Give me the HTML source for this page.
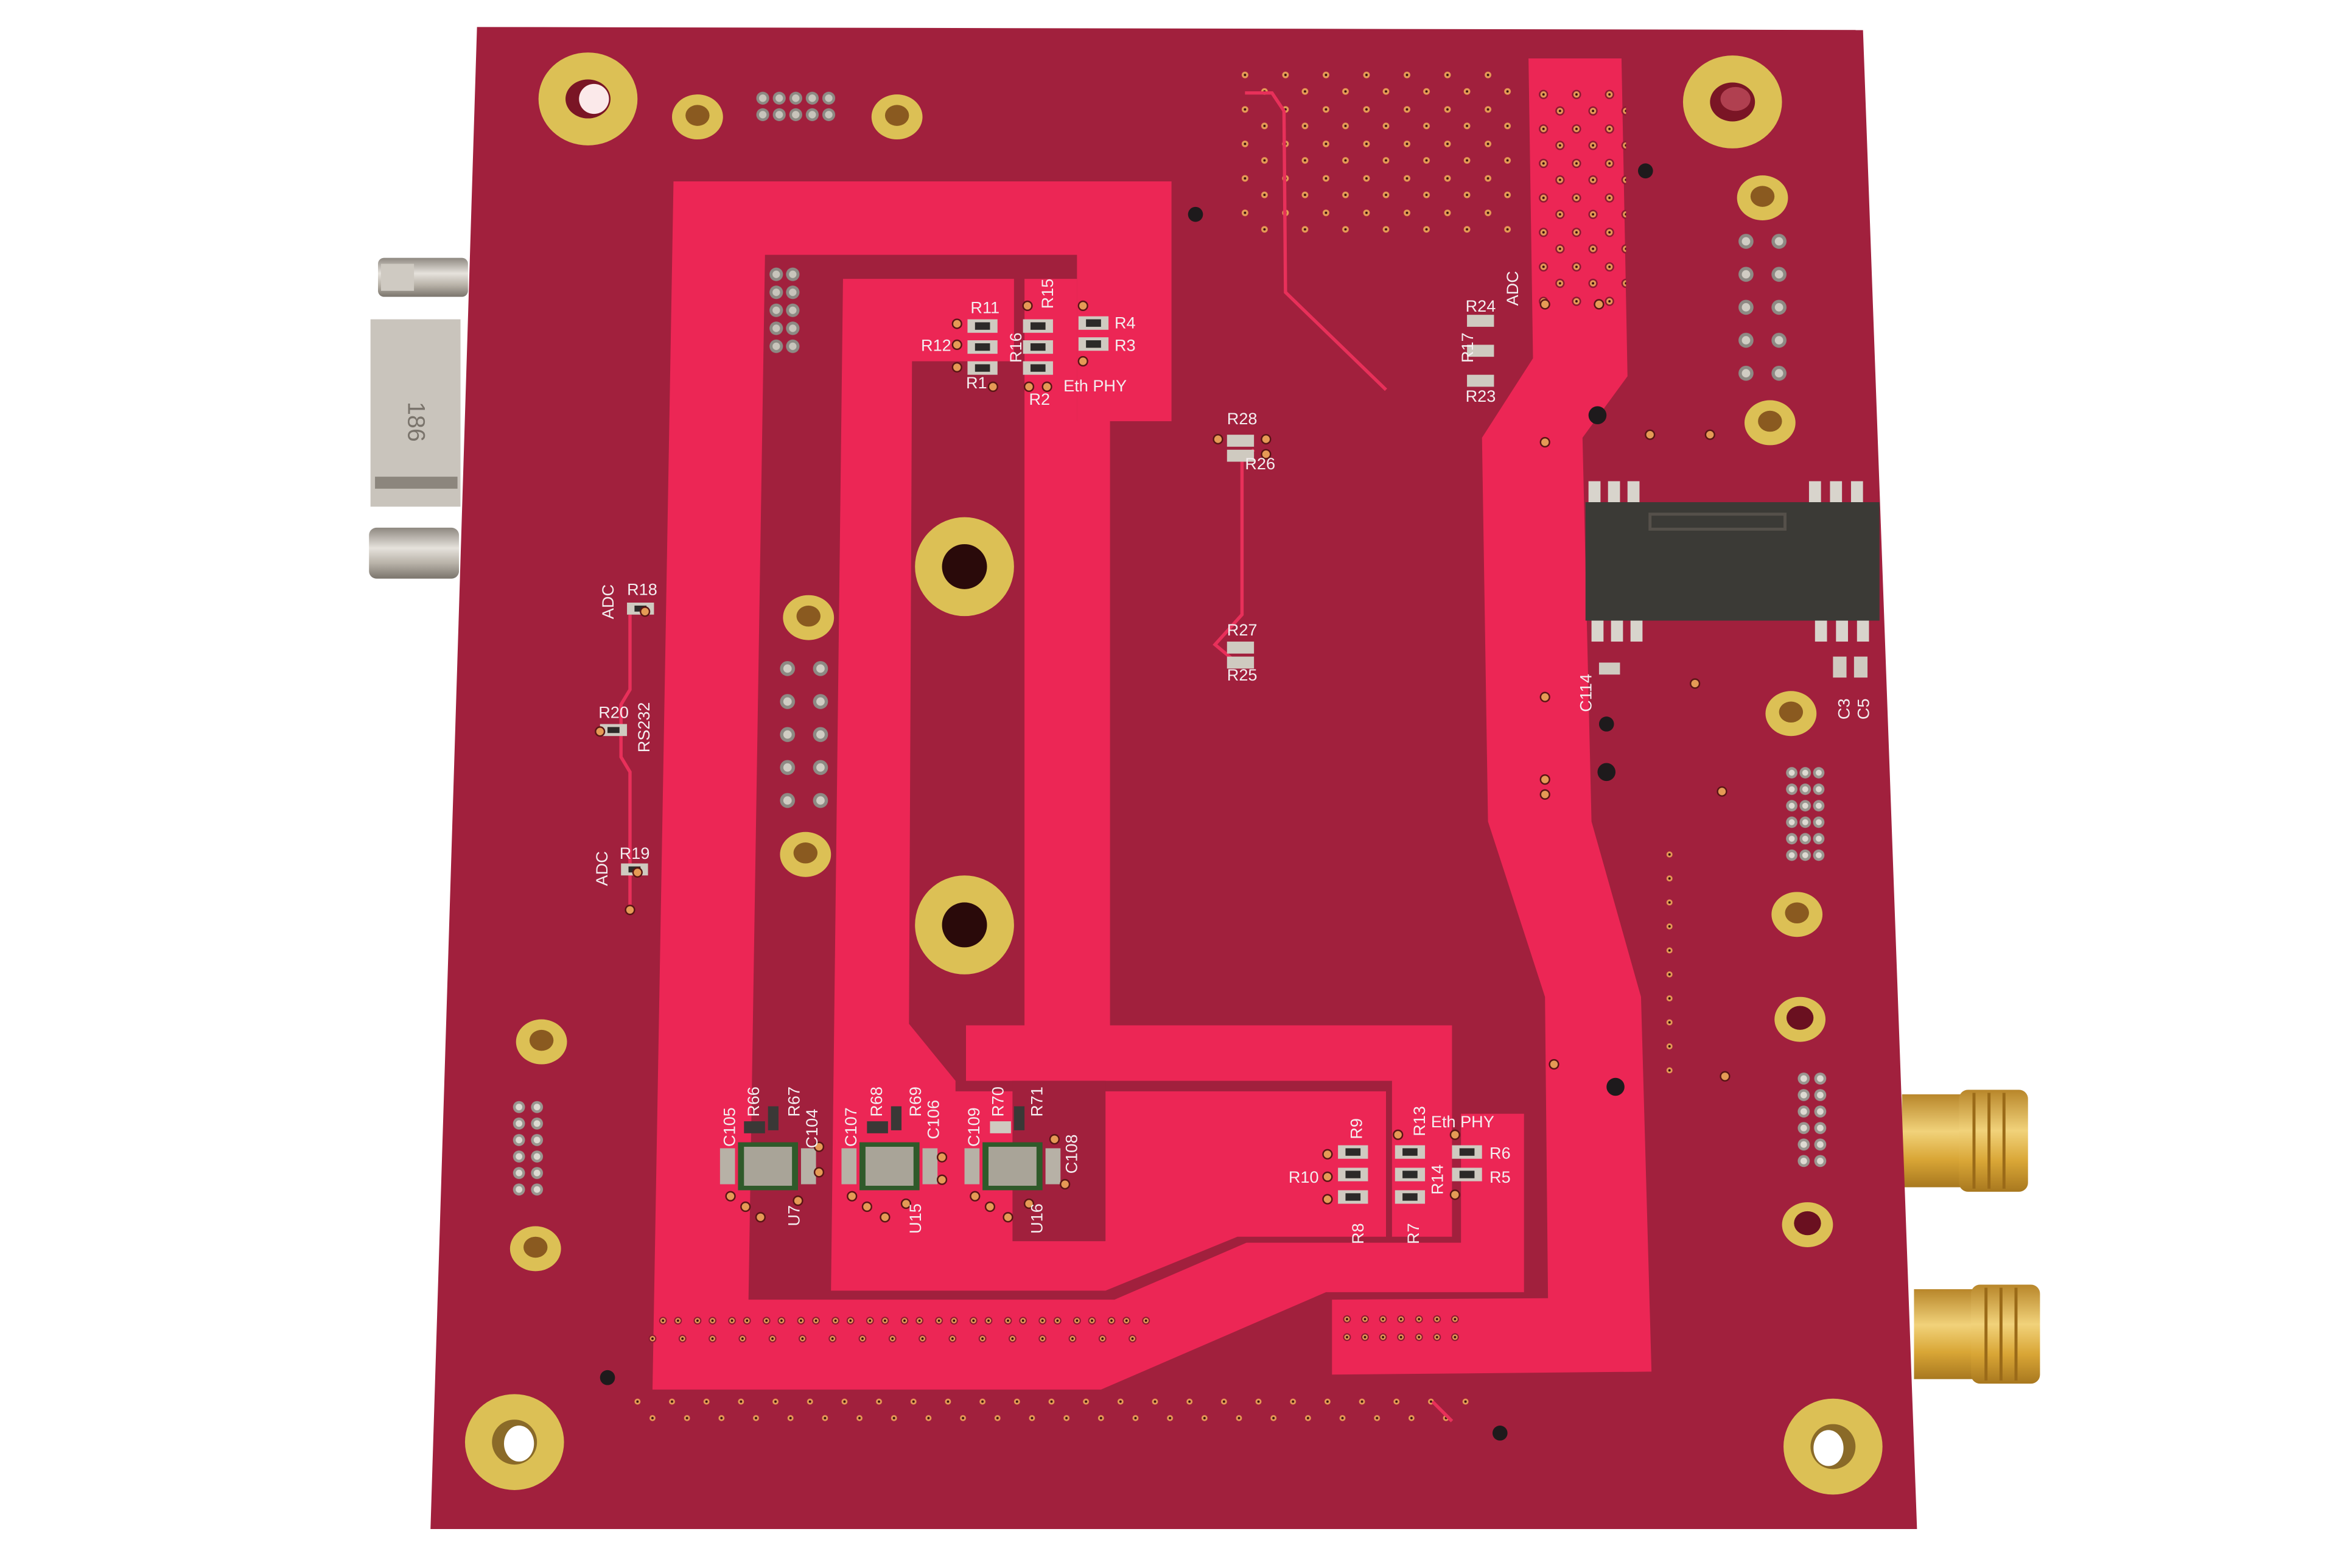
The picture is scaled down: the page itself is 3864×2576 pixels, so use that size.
<!DOCTYPE html>
<html><head><meta charset="utf-8">
<style>
html,body{margin:0;padding:0;background:#fff;}
svg{display:block;}
text{font-family:"Liberation Sans",sans-serif;fill:#f4eef0;font-size:11px;}
</style></head>
<body>
<svg width="3864" height="2576" viewBox="0 0 1568 1046" preserveAspectRatio="none" xmlns="http://www.w3.org/2000/svg">
<defs>
<pattern id="vg" x="826" y="46" width="27" height="23" patternUnits="userSpaceOnUse">
<circle cx="4" cy="4" r="2.2" fill="#e59a55"/><circle cx="4" cy="4" r="0.8" fill="#3a1010"/>
<circle cx="17" cy="15" r="2.2" fill="#e59a55"/><circle cx="17" cy="15" r="0.8" fill="#3a1010"/>
</pattern>
<pattern id="vg2" x="1024" y="58" width="22" height="23" patternUnits="userSpaceOnUse">
<circle cx="5" cy="5" r="2.6" fill="#e59a55" stroke="#8a1a30" stroke-width="1"/><circle cx="5" cy="5" r="0.8" fill="#3a1010"/>
<circle cx="16" cy="16" r="2.6" fill="#e59a55" stroke="#8a1a30" stroke-width="1"/><circle cx="16" cy="16" r="0.8" fill="#3a1010"/>
</pattern>
<pattern id="vb1" x="438" y="876" width="23" height="10" patternUnits="userSpaceOnUse">
<circle cx="4" cy="5" r="2.2" fill="#e59a55" stroke="#8a1a30" stroke-width="0.8"/><circle cx="4" cy="5" r="0.8" fill="#3a1010"/>
<circle cx="14" cy="5" r="2.2" fill="#e59a55" stroke="#8a1a30" stroke-width="0.8"/><circle cx="14" cy="5" r="0.8" fill="#3a1010"/>
</pattern>
<pattern id="vb2" x="430" y="888" width="20" height="10" patternUnits="userSpaceOnUse">
<circle cx="5" cy="5" r="2.2" fill="#e59a55" stroke="#8a1a30" stroke-width="0.8"/><circle cx="5" cy="5" r="0.8" fill="#3a1010"/>
</pattern>
<pattern id="vb3" x="893" y="874" width="12" height="12" patternUnits="userSpaceOnUse">
<circle cx="5" cy="6" r="2.2" fill="#e59a55" stroke="#8a1a30" stroke-width="0.8"/><circle cx="5" cy="6" r="0.8" fill="#3a1010"/>
</pattern>
<pattern id="vb4" x="420" y="930" width="23" height="10" patternUnits="userSpaceOnUse">
<circle cx="5" cy="5" r="2" fill="#e59a55"/><circle cx="5" cy="5" r="0.8" fill="#3a1010"/>
</pattern>
<pattern id="vb5" x="430" y="941" width="23" height="10" patternUnits="userSpaceOnUse">
<circle cx="5" cy="5" r="2" fill="#e59a55"/><circle cx="5" cy="5" r="0.8" fill="#3a1010"/>
</pattern>
<pattern id="vv" x="1108" y="565" width="10" height="16" patternUnits="userSpaceOnUse">
<circle cx="5" cy="5" r="2" fill="#e59a55"/><circle cx="5" cy="5" r="0.8" fill="#3a1010"/>
</pattern>
<pattern id="p1" x="503" y="60" width="11" height="11" patternUnits="userSpaceOnUse">
<circle cx="5.5" cy="5.5" r="4.3" fill="#8d8a84"/><circle cx="5.5" cy="5.5" r="2.5" fill="#c8c4bb"/></pattern>
<pattern id="p2" x="512" y="177" width="11" height="12" patternUnits="userSpaceOnUse">
<circle cx="5.5" cy="6" r="4.5" fill="#8d8a84"/><circle cx="5.5" cy="6" r="2.5" fill="#c8c4bb"/></pattern>
<pattern id="p3" x="519" y="440" width="22" height="22" patternUnits="userSpaceOnUse">
<circle cx="6" cy="6" r="5" fill="#8d8a84"/><circle cx="6" cy="6" r="2.8" fill="#d0ccc3"/></pattern>
<pattern id="p4" x="340" y="733" width="12" height="11" patternUnits="userSpaceOnUse">
<circle cx="6" cy="5.5" r="4" fill="#9a9690"/><circle cx="6" cy="5.5" r="2.2" fill="#dedad2"/></pattern>
<pattern id="p5" x="1158" y="155" width="22" height="22" patternUnits="userSpaceOnUse">
<circle cx="6" cy="6" r="5" fill="#8d8a84"/><circle cx="6" cy="6" r="2.8" fill="#d0ccc3"/></pattern>
<pattern id="p6" x="1190" y="510" width="9" height="11" patternUnits="userSpaceOnUse">
<circle cx="4.5" cy="5.5" r="3.8" fill="#9a9690"/><circle cx="4.5" cy="5.5" r="2" fill="#dedad2"/></pattern>
<pattern id="p7" x="1197" y="714" width="11" height="11" patternUnits="userSpaceOnUse">
<circle cx="5.5" cy="5.5" r="4" fill="#9a9690"/><circle cx="5.5" cy="5.5" r="2.2" fill="#dedad2"/></pattern>
<linearGradient id="gold" x1="0" y1="0" x2="0" y2="1">
<stop offset="0" stop-color="#b8862a"/><stop offset="0.4" stop-color="#f1d27a"/><stop offset="0.7" stop-color="#d9a636"/><stop offset="1" stop-color="#a8781f"/>
</linearGradient>
<linearGradient id="silver" x1="0" y1="0" x2="0" y2="1">
<stop offset="0" stop-color="#8e8880"/><stop offset="0.4" stop-color="#e6e2dc"/><stop offset="0.7" stop-color="#b8b2a8"/><stop offset="1" stop-color="#7a746c"/>
</linearGradient>
</defs>

<!-- connectors left -->
<g>
<rect x="252" y="172" width="60" height="26" rx="4" fill="url(#silver)"/>
<rect x="254" y="176" width="22" height="18" fill="#cfcac2"/>
<rect x="247" y="213" width="60" height="125" fill="#c9c4bc"/>
<rect x="250" y="318" width="55" height="8" fill="#8c867d"/>
<text x="0" y="0" transform="translate(272,268) rotate(90)" style="fill:#7a746c;font-size:16px">186</text>
<rect x="246" y="352" width="60" height="34" rx="5" fill="url(#silver)"/>
</g>
<!-- SMA right -->
<g>
<rect x="1268" y="730" width="40" height="62" fill="url(#gold)"/>
<rect x="1306" y="727" width="46" height="68" rx="6" fill="url(#gold)"/>
<g stroke="#9a6a18" stroke-width="2"><line x1="1316" y1="729" x2="1316" y2="793"/><line x1="1326" y1="729" x2="1326" y2="793"/><line x1="1336" y1="729" x2="1336" y2="793"/></g>
<rect x="1276" y="860" width="40" height="60" fill="url(#gold)"/>
<rect x="1314" y="857" width="46" height="66" rx="6" fill="url(#gold)"/>
<g stroke="#9a6a18" stroke-width="2"><line x1="1324" y1="859" x2="1324" y2="921"/><line x1="1334" y1="859" x2="1334" y2="921"/><line x1="1344" y1="859" x2="1344" y2="921"/></g>
</g>

<!-- board -->
<polygon points="318,18 1242,20 1278,1020 287,1020" fill="#a1203d"/>

<!-- bright copper pours -->
<g fill="#ec2655">
<polygon points="449,121 781,121 781,281 718,281 718,170 510,170 499,867 743,867 831,829 974,829 974,743 1016,743 1016,862 884,862 734,927 435,927"/>
<polygon points="562,186 676,186 676,241 608,241 606,683 637,721 637,728 924,728 924,825 825,825 737,861 554,861"/>
<polygon points="683,186 718,186 718,281 740,281 740,684 968,684 968,825 928,825 928,721 644,721 644,684 683,684"/>
<polygon points="1019,39 1081,39 1085,251 1055,292 1061,548 1094,665 1101,915 888,917 888,867 1032,866 1030,665 992,548 988,292 1022,239"/>
</g>
<rect x="675" y="721" width="62" height="107" fill="#a1203d"/>

<!-- via fields -->
<rect x="826" y="46" width="190" height="115" fill="url(#vg)"/>
<rect x="1024" y="58" width="60" height="150" fill="url(#vg2)"/>
<rect x="438" y="876" width="330" height="10" fill="url(#vb1)"/>
<rect x="430" y="888" width="340" height="10" fill="url(#vb2)"/>
<rect x="893" y="874" width="80" height="24" fill="url(#vb3)"/>
<rect x="420" y="930" width="560" height="10" fill="url(#vb4)"/>
<rect x="430" y="941" width="550" height="10" fill="url(#vb5)"/>
<rect x="1108" y="565" width="10" height="160" fill="url(#vv)"/>

<!-- thin traces -->
<g fill="none" stroke="#e8305a" stroke-width="2.2">
<polyline points="830,62 848,62 856,74 857,195 924,260"/>
<polyline points="836,300 828,306 828,410 810,430 822,440"/>
<polyline points="420,410 420,460 414,470 414,505 420,515 420,605"/>
<line x1="955" y1="935" x2="968" y2="948"/>
</g>

<!-- mounting holes -->
<g>
<ellipse cx="392" cy="66" rx="33" ry="31" fill="#dcc055"/><ellipse cx="392" cy="66" rx="15" ry="13" fill="#7a1525"/><ellipse cx="396" cy="66" rx="10" ry="10" fill="#fbe9ea"/>
<ellipse cx="1155" cy="68" rx="33" ry="31" fill="#dcc055"/><ellipse cx="1155" cy="68" rx="15" ry="13" fill="#7a1525"/><ellipse cx="1157" cy="66" rx="10" ry="8" fill="#b04050"/>
<ellipse cx="343" cy="962" rx="33" ry="32" fill="#dcc055"/><ellipse cx="343" cy="962" rx="15" ry="15" fill="#8a6a28"/><ellipse cx="346" cy="963" rx="10" ry="12" fill="#fff"/>
<ellipse cx="1222" cy="965" rx="33" ry="32" fill="#dcc055"/><ellipse cx="1222" cy="965" rx="15" ry="15" fill="#8a6a28"/><ellipse cx="1219" cy="966" rx="10" ry="12" fill="#fff"/>
<circle cx="643" cy="378" r="33" fill="#dcc055"/><circle cx="643" cy="378" r="15" fill="#2a0a0a"/>
<circle cx="643" cy="617" r="33" fill="#dcc055"/><circle cx="643" cy="617" r="15" fill="#2a0a0a"/>
</g>
<g fill="#dcc055">
<ellipse cx="465" cy="78" rx="17" ry="15"/><ellipse cx="598" cy="78" rx="17" ry="15"/>
<ellipse cx="539" cy="412" rx="17" ry="15"/><ellipse cx="537" cy="570" rx="17" ry="15"/>
<ellipse cx="361" cy="695" rx="17" ry="15"/><ellipse cx="357" cy="833" rx="17" ry="15"/>
<ellipse cx="1175" cy="132" rx="17" ry="15"/><ellipse cx="1180" cy="282" rx="17" ry="15"/>
<ellipse cx="1194" cy="476" rx="17" ry="15"/><ellipse cx="1198" cy="610" rx="17" ry="15"/>
<ellipse cx="1200" cy="680" rx="17" ry="15"/><ellipse cx="1205" cy="817" rx="17" ry="15"/>
</g>
<g fill="#8a5a20">
<ellipse cx="465" cy="77" rx="8" ry="7"/><ellipse cx="598" cy="77" rx="8" ry="7"/>
<ellipse cx="539" cy="411" rx="8" ry="7"/><ellipse cx="537" cy="569" rx="8" ry="7"/>
<ellipse cx="361" cy="694" rx="8" ry="7"/><ellipse cx="357" cy="832" rx="8" ry="7"/>
<ellipse cx="1175" cy="131" rx="8" ry="7"/><ellipse cx="1180" cy="281" rx="8" ry="7"/>
<ellipse cx="1194" cy="475" rx="8" ry="7"/><ellipse cx="1198" cy="609" rx="8" ry="7"/>
</g>
<ellipse cx="1200" cy="679" rx="9" ry="8" fill="#6a1020"/><ellipse cx="1205" cy="816" rx="9" ry="8" fill="#6a1020"/>
<!-- black vias -->
<g fill="#1e1a1c">
<circle cx="797" cy="143" r="5"/><circle cx="1097" cy="114" r="5"/><circle cx="1065" cy="277" r="6"/>
<circle cx="1071" cy="483" r="5"/><circle cx="1071" cy="515" r="6"/><circle cx="1077" cy="725" r="6"/>
<circle cx="405" cy="919" r="5"/><circle cx="1000" cy="956" r="5"/>
</g>

<!-- pin headers -->
<rect x="503" y="60" width="55" height="22" fill="url(#p1)"/>
<rect x="512" y="177" width="22" height="60" fill="url(#p2)"/>
<rect x="519" y="440" width="44" height="110" fill="url(#p3)"/>
<rect x="340" y="733" width="24" height="66" fill="url(#p4)"/>
<rect x="1158" y="155" width="44" height="100" fill="url(#p5)"/>
<rect x="1190" y="510" width="27" height="66" fill="url(#p6)"/>
<rect x="1197" y="714" width="22" height="66" fill="url(#p7)"/>

<!-- IC -->
<g>
<g fill="#d8d4cc">
<rect x="1059" y="321" width="8" height="15"/><rect x="1072" y="321" width="8" height="15"/><rect x="1085" y="321" width="8" height="15"/>
<rect x="1206" y="321" width="8" height="15"/><rect x="1220" y="321" width="8" height="15"/><rect x="1234" y="321" width="8" height="15"/>
<rect x="1061" y="413" width="8" height="15"/><rect x="1074" y="413" width="8" height="15"/><rect x="1087" y="413" width="8" height="15"/>
<rect x="1210" y="413" width="8" height="15"/><rect x="1224" y="413" width="8" height="15"/><rect x="1238" y="413" width="8" height="15"/>
</g>
<rect x="1057" y="335" width="196" height="79" fill="#3b3a36"/>
<rect x="1100" y="343" width="90" height="10" fill="none" stroke="#55504a" stroke-width="2"/>
</g>

<!-- SMD resistors -->
<g fill="#cfcac0">
<rect x="645" y="213" width="20" height="9"/><rect x="645" y="227" width="20" height="9"/><rect x="645" y="241" width="20" height="9"/>
<rect x="682" y="213" width="20" height="9"/><rect x="682" y="227" width="20" height="9"/><rect x="682" y="241" width="20" height="9"/>
<rect x="719" y="211" width="20" height="9"/><rect x="719" y="225" width="20" height="9"/>
<rect x="818" y="290" width="18" height="8"/><rect x="818" y="300" width="18" height="8"/>
<rect x="818" y="428" width="18" height="8"/><rect x="818" y="438" width="18" height="8"/>
<rect x="978" y="210" width="18" height="8"/><rect x="978" y="230" width="18" height="8"/><rect x="978" y="250" width="18" height="8"/>
<rect x="418" y="402" width="18" height="8"/><rect x="400" y="483" width="18" height="8"/><rect x="414" y="576" width="18" height="8"/>
<rect x="892" y="764" width="20" height="9"/><rect x="892" y="779" width="20" height="9"/><rect x="892" y="794" width="20" height="9"/>
<rect x="930" y="764" width="20" height="9"/><rect x="930" y="779" width="20" height="9"/><rect x="930" y="794" width="20" height="9"/>
<rect x="968" y="764" width="20" height="9"/><rect x="968" y="779" width="20" height="9"/>
<rect x="1236" y="438" width="9" height="14"/><rect x="1222" y="438" width="9" height="14"/><rect x="1066" y="442" width="14" height="8"/>
</g>
<g fill="#2c2a28">
<rect x="650" y="215" width="10" height="5"/><rect x="650" y="229" width="10" height="5"/><rect x="650" y="243" width="10" height="5"/>
<rect x="687" y="215" width="10" height="5"/><rect x="687" y="229" width="10" height="5"/><rect x="687" y="243" width="10" height="5"/>
<rect x="724" y="213" width="10" height="5"/><rect x="724" y="227" width="10" height="5"/>
<rect x="897" y="766" width="10" height="5"/><rect x="897" y="781" width="10" height="5"/><rect x="897" y="796" width="10" height="5"/>
<rect x="935" y="766" width="10" height="5"/><rect x="935" y="781" width="10" height="5"/><rect x="935" y="796" width="10" height="5"/>
<rect x="973" y="766" width="10" height="5"/><rect x="973" y="781" width="10" height="5"/>
<rect x="423" y="404" width="8" height="4"/><rect x="405" y="485" width="8" height="4"/><rect x="419" y="578" width="8" height="4"/>
</g>

<!-- bottom modules U7 U15 U16 -->
<g>
<rect x="480" y="766" width="10" height="24" fill="#b7b1a6"/><rect x="492" y="762" width="40" height="32" fill="#2f5a2a"/><rect x="496" y="765" width="32" height="26" fill="#a9a498"/><rect x="534" y="766" width="10" height="24" fill="#b7b1a6"/>
<rect x="561" y="766" width="10" height="24" fill="#b7b1a6"/><rect x="573" y="762" width="40" height="32" fill="#2f5a2a"/><rect x="577" y="765" width="32" height="26" fill="#a9a498"/><rect x="615" y="766" width="10" height="24" fill="#b7b1a6"/>
<rect x="643" y="766" width="10" height="24" fill="#b7b1a6"/><rect x="655" y="762" width="40" height="32" fill="#2f5a2a"/><rect x="659" y="765" width="32" height="26" fill="#a9a498"/><rect x="697" y="766" width="10" height="24" fill="#b7b1a6"/>
<rect x="496" y="748" width="14" height="8" fill="#3a3836"/><rect x="512" y="738" width="7" height="16" fill="#3a3836"/>
<rect x="578" y="748" width="14" height="8" fill="#3a3836"/><rect x="594" y="738" width="7" height="16" fill="#3a3836"/>
<rect x="660" y="748" width="14" height="8" fill="#cfcac0"/><rect x="676" y="738" width="7" height="16" fill="#3a3836"/>
</g>

<!-- small pad vias near parts -->
<g fill="#e59a55" stroke="#5a1515" stroke-width="1">
<circle cx="638" cy="216" r="3"/><circle cx="638" cy="230" r="3"/><circle cx="638" cy="245" r="3"/>
<circle cx="662" cy="258" r="3"/><circle cx="686" cy="258" r="3"/><circle cx="698" cy="258" r="3"/>
<circle cx="685" cy="204" r="3"/><circle cx="722" cy="204" r="3"/><circle cx="722" cy="241" r="3"/>
<circle cx="844" cy="293" r="3"/><circle cx="844" cy="303" r="3"/><circle cx="812" cy="293" r="3"/>
<circle cx="430" cy="408" r="3"/><circle cx="400" cy="488" r="3"/><circle cx="425" cy="582" r="3"/><circle cx="420" cy="607" r="3"/>
<circle cx="885" cy="770" r="3"/><circle cx="885" cy="785" r="3"/><circle cx="885" cy="800" r="3"/>
<circle cx="932" cy="757" r="3"/><circle cx="970" cy="757" r="3"/><circle cx="970" cy="797" r="3"/>
<circle cx="487" cy="798" r="3"/><circle cx="497" cy="805" r="3"/><circle cx="507" cy="812" r="3"/><circle cx="532" cy="801" r="3"/>
<circle cx="568" cy="798" r="3"/><circle cx="578" cy="805" r="3"/><circle cx="590" cy="812" r="3"/><circle cx="604" cy="803" r="3"/>
<circle cx="650" cy="798" r="3"/><circle cx="660" cy="805" r="3"/><circle cx="672" cy="812" r="3"/><circle cx="686" cy="803" r="3"/>
<circle cx="546" cy="765" r="3"/><circle cx="546" cy="782" r="3"/><circle cx="628" cy="772" r="3"/><circle cx="628" cy="787" r="3"/>
<circle cx="710" cy="790" r="3"/><circle cx="703" cy="760" r="3"/>
<circle cx="1030" cy="203" r="3"/><circle cx="1066" cy="203" r="3"/><circle cx="1030" cy="295" r="3"/><circle cx="1100" cy="290" r="3"/>
<circle cx="1030" cy="465" r="3"/><circle cx="1030" cy="520" r="3"/><circle cx="1030" cy="530" r="3"/><circle cx="1036" cy="710" r="3"/>
<circle cx="1148" cy="528" r="3"/><circle cx="1150" cy="718" r="3"/><circle cx="1130" cy="456" r="3"/><circle cx="1140" cy="290" r="3"/>
</g>

<!-- labels -->
<text x="647" y="209">R11</text>
<text x="614" y="234">R12</text>
<text x="644" y="259">R1</text>
<text x="686" y="270">R2</text>
<text x="743" y="219">R4</text>
<text x="743" y="234">R3</text>
<text x="709" y="261">Eth PHY</text>
<text transform="translate(702,206) rotate(-90)">R15</text>
<text transform="translate(681,242) rotate(-90)">R16</text>
<text x="818" y="283">R28</text>
<text x="830" y="313">R26</text>
<text x="818" y="424">R27</text>
<text x="818" y="454">R25</text>
<text x="977" y="208">R24</text>
<text x="977" y="268">R23</text>
<text transform="translate(1012,204) rotate(-90)">ADC</text>
<text transform="translate(982,242) rotate(-90)">R17</text>
<text x="418" y="397">R18</text>
<text transform="translate(409,413) rotate(-90)">ADC</text>
<text x="399" y="479">R20</text>
<text transform="translate(433,502) rotate(-90)">RS232</text>
<text x="413" y="573">R19</text>
<text transform="translate(405,591) rotate(-90)">ADC</text>
<text transform="translate(1061,475) rotate(-90)">C114</text>
<text transform="translate(1233,480) rotate(-90)">C3</text>
<text transform="translate(1246,480) rotate(-90)">C5</text>
<text transform="translate(490,765) rotate(-90)">C105</text>
<text transform="translate(506,745) rotate(-90)">R66</text>
<text transform="translate(533,745) rotate(-90)">R67</text>
<text transform="translate(545,766) rotate(-90)">C104</text>
<text transform="translate(571,765) rotate(-90)">C107</text>
<text transform="translate(588,745) rotate(-90)">R68</text>
<text transform="translate(614,745) rotate(-90)">R69</text>
<text transform="translate(626,760) rotate(-90)">C106</text>
<text transform="translate(653,765) rotate(-90)">C109</text>
<text transform="translate(669,745) rotate(-90)">R70</text>
<text transform="translate(695,745) rotate(-90)">R71</text>
<text transform="translate(718,783) rotate(-90)">C108</text>
<text transform="translate(533,818) rotate(-90)">U7</text>
<text transform="translate(614,823) rotate(-90)">U15</text>
<text transform="translate(695,823) rotate(-90)">U16</text>
<text transform="translate(908,760) rotate(-90)">R9</text>
<text transform="translate(950,758) rotate(-90)">R13</text>
<text x="954" y="752">Eth PHY</text>
<text x="993" y="773">R6</text>
<text x="993" y="789">R5</text>
<text x="859" y="789">R10</text>
<text transform="translate(962,797) rotate(-90)">R14</text>
<text transform="translate(909,830) rotate(-90)">R8</text>
<text transform="translate(946,830) rotate(-90)">R7</text>
</svg>
</body></html>
